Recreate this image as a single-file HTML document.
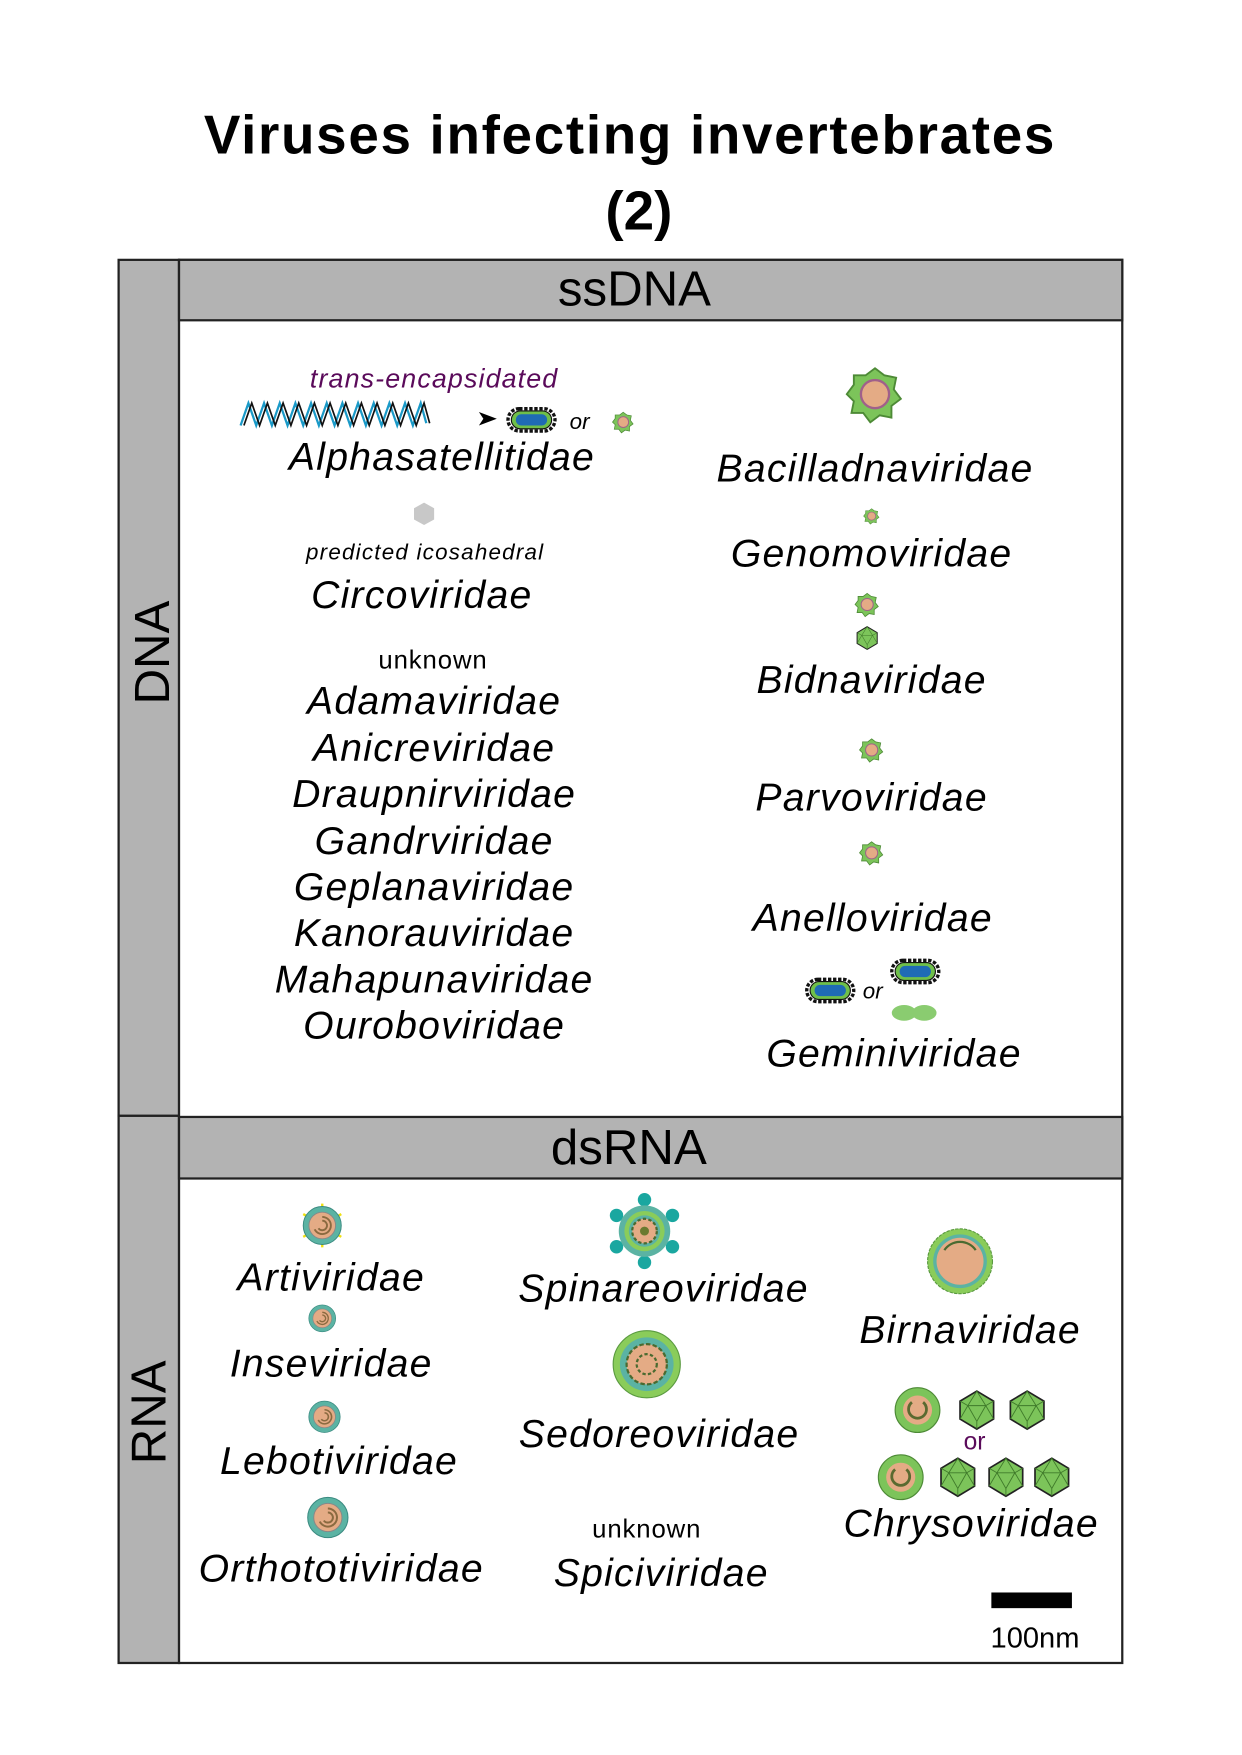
<!DOCTYPE html>
<html><head><meta charset="utf-8"><style>
html,body{margin:0;padding:0;background:#fff}
svg{display:block}
text{font-family:"Liberation Sans",sans-serif}
.f{font-style:italic;font-size:35px;letter-spacing:1.1px;text-anchor:middle;fill:#000}
</style></head><body>
<svg width="1242" height="1755" viewBox="0 0 1110 1568" xmlns="http://www.w3.org/2000/svg">
<defs>
<g id="gv"><polygon points="0,-11 4,-8 9,-7 8,-2 11,2 7,5 7,10 2,9 -2,12 -5,8 -10,8 -9,3 -12,0 -9,-4 -9,-8 -4,-8" fill="#7cc45a" stroke="#4d8a36" stroke-width="0.8"/><circle r="6" fill="#e4ab85" stroke="#a0608a" stroke-width="1"/></g>
<g id="ico"><polygon points="0,-17 15,-8 15,8 0,17 -15,8 -15,-8" fill="#7cc45a" stroke="#222" stroke-width="1.5"/><path d="M0,-17 L-8,-4 L8,-4 Z M-8,-4 L-15,8 M8,-4 L15,8 M-8,-4 L0,10 L8,-4 M0,10 L0,17 M-15,-8 L-8,-4 M15,-8 L8,-4" stroke="#3f7a2a" stroke-width="0.8" fill="none"/></g>
<g id="cap"><rect x="-21" y="-10" width="42" height="20" rx="10" fill="none" stroke="#111" stroke-width="3" stroke-dasharray="3 1.5"/><rect x="-18" y="-8" width="36" height="16" rx="8" fill="#6fbf4a" stroke="#111" stroke-width="1"/><rect x="-14" y="-5" width="28" height="10" rx="5" fill="#1f6bb5"/></g>
<g id="toti"><circle r="20" fill="#5bb3a3" stroke="#3a8a80" stroke-width="1"/><circle r="14" fill="#e4ab85" stroke="#888" stroke-width="1"/><path d="M0,-9 A9,9 0 1,1 -8,4 M0,-5 A5,5 0 1,1 -4,3" stroke="#8a6a40" stroke-width="2" fill="none"/></g>
<g id="chr"><circle r="20" fill="#7cc45a" stroke="#4d8a36"/><circle r="13" fill="#e4ab85"/><path d="M-5,-7 A8,8 0 1,0 5,-7" stroke="#5a6a30" stroke-width="2.5" fill="none"/></g>
</defs>

<text x="563" y="137" font-size="49" font-weight="bold" letter-spacing="1.5" text-anchor="middle">Viruses infecting invertebrates</text>
<text x="571" y="205" font-size="49" font-weight="bold" text-anchor="middle">(2)</text>

<rect x="106" y="232" width="54" height="765" fill="#b3b3b3" stroke="#222" stroke-width="2"/>
<rect x="106" y="997" width="54" height="489" fill="#b3b3b3" stroke="#222" stroke-width="2"/>
<rect x="160" y="232" width="843" height="1254" fill="#fff" stroke="#222" stroke-width="2"/>
<rect x="160" y="232" width="843" height="54" fill="#b3b3b3" stroke="#222" stroke-width="2"/>
<rect x="160" y="998" width="843" height="55" fill="#b3b3b3" stroke="#222" stroke-width="2"/>
<text x="567" y="273" font-size="44" text-anchor="middle">ssDNA</text>
<text x="562" y="1040" font-size="44" text-anchor="middle">dsRNA</text>
<text transform="translate(151,583) rotate(-90)" font-size="44" text-anchor="middle">DNA</text>
<text transform="translate(148,1262) rotate(-90)" font-size="44" text-anchor="middle">RNA</text>

<!-- ssDNA left -->
<text x="388" y="346" font-size="24" font-style="italic" letter-spacing="1" fill="#5a0a5a" text-anchor="middle">trans-encapsidated</text>
<path d="M215,380 l7,-20 l7,20 l7,-20 l7,20 l7,-20 l7,20 l7,-20 l7,20 l7,-20 l7,20 l7,-20 l7,20 l7,-20 l7,20 l7,-20 l7,20 l7,-20 l7,20 l7,-20 l7,20 l7,-20 l7,20 l7,-20 l5,18" stroke="#1a9ac8" stroke-width="2" fill="none"/>
<path d="M218,380 l7,-20 l7,20 l7,-20 l7,20 l7,-20 l7,20 l7,-20 l7,20 l7,-20 l7,20 l7,-20 l7,20 l7,-20 l7,20 l7,-20 l7,20 l7,-20 l7,20 l7,-20 l7,20 l7,-20 l7,20 l7,-20 l5,18" stroke="#111" stroke-width="1.5" fill="none"/>
<polygon points="428,368 444,374 428,380 432,374" fill="#000"/>
<use href="#cap" x="475" y="375"/>
<text x="518" y="383" font-size="20" font-style="italic" text-anchor="middle">or</text>
<use href="#gv" transform="translate(557,377) scale(0.8)"/>
<text class="f" x="395" y="420">Alphasatellitidae</text>
<polygon points="379,449 388,454 388,464 379,469 370,464 370,454" fill="#c8c8c8"/>
<text x="380" y="500" font-size="20" font-style="italic" letter-spacing="1.1" text-anchor="middle">predicted icosahedral</text>
<text class="f" x="377" y="543">Circoviridae</text>
<text x="387" y="597" font-size="23" letter-spacing="0.8" text-anchor="middle">unknown</text>
<text class="f" x="388" y="638">Adamaviridae</text>
<text class="f" x="388" y="680">Anicreviridae</text>
<text class="f" x="388" y="721">Draupnirviridae</text>
<text class="f" x="388" y="763">Gandrviridae</text>
<text class="f" x="388" y="804">Geplanaviridae</text>
<text class="f" x="388" y="845">Kanorauviridae</text>
<text class="f" x="388" y="887">Mahapunaviridae</text>
<text class="f" x="388" y="928">Ouroboviridae</text>

<!-- ssDNA right -->
<use href="#gv" transform="translate(782,352) scale(2.1)"/>
<text class="f" x="782" y="430">Bacilladnaviridae</text>
<use href="#gv" transform="translate(779,461) scale(0.6)"/>
<text class="f" x="779" y="506">Genomoviridae</text>
<use href="#gv" transform="translate(775,540) scale(0.9)"/>
<use href="#ico" transform="translate(775,570) scale(0.6)"/>
<text class="f" x="779" y="619">Bidnaviridae</text>
<use href="#gv" transform="translate(779,670) scale(0.9)"/>
<text class="f" x="779" y="724">Parvoviridae</text>
<use href="#gv" transform="translate(779,762) scale(0.9)"/>
<text class="f" x="780" y="832">Anelloviridae</text>
<use href="#cap" x="742" y="885"/>
<text x="780" y="892" font-size="20" font-style="italic" text-anchor="middle">or</text>
<use href="#cap" x="818" y="868"/>
<ellipse cx="808" cy="905" rx="11" ry="7" fill="#8acc70"/><ellipse cx="826" cy="905" rx="11" ry="7" fill="#8acc70"/>
<text class="f" x="799" y="953">Geminiviridae</text>

<!-- dsRNA -->
<g transform="translate(288,1095) scale(0.85)"><g stroke="#f0e010" stroke-width="2.5"><line x1="0" y1="-23" x2="0" y2="23"/><line x1="-20" y1="-12" x2="20" y2="12"/><line x1="-20" y1="12" x2="20" y2="-12"/></g><use href="#toti"/></g>
<text class="f" x="296" y="1153">Artiviridae</text>
<use href="#toti" transform="translate(288,1178) scale(0.6)"/>
<text class="f" x="296" y="1230">Inseviridae</text>
<use href="#toti" transform="translate(290,1266) scale(0.7)"/>
<text class="f" x="303" y="1317">Lebotiviridae</text>
<use href="#toti" transform="translate(293,1356) scale(0.9)"/>
<text class="f" x="305" y="1413">Orthototiviridae</text>

<g transform="translate(576,1100)">
<g fill="#1aa7a0"><circle cx="0" cy="-28" r="6"/><circle cx="0" cy="28" r="6"/><circle cx="-25" cy="-14" r="6"/><circle cx="25" cy="-14" r="6"/><circle cx="-25" cy="14" r="6"/><circle cx="25" cy="14" r="6"/></g>
<circle r="23" fill="#5bb3a3"/><circle r="18" fill="#8acc5a"/><circle r="14" fill="#5bb3a3"/><circle r="11" fill="#e4ab85" stroke="#4a6a30" stroke-width="2" stroke-dasharray="3 2"/><circle r="4" fill="#6a7a30"/></g>
<text class="f" x="593" y="1163">Spinareoviridae</text>
<g transform="translate(578,1219)"><circle r="30" fill="#8acc5a" stroke="#5a9a40"/><circle r="24" fill="#5bb3a3"/><circle r="18" fill="#e4ab85" stroke="#4a6a30" stroke-width="2" stroke-dasharray="4 2"/><circle r="9" fill="none" stroke="#4a6a30" stroke-width="2" stroke-dasharray="3 2"/></g>
<text class="f" x="589" y="1293">Sedoreoviridae</text>
<text x="578" y="1374" font-size="23" letter-spacing="0.8" text-anchor="middle">unknown</text>
<text class="f" x="591" y="1417">Spiciviridae</text>

<g transform="translate(858,1127)"><circle r="29" fill="#8acc5a" stroke="#5a9a40" stroke-dasharray="3 1"/><circle r="24" fill="#5bb3a3"/><circle r="21" fill="#e4ab85"/><path d="M-14,-10 A17,17 0 0,1 14,-10" stroke="#4a6a30" stroke-width="2" fill="none"/></g>
<text class="f" x="867" y="1200">Birnaviridae</text>
<use href="#chr" x="820" y="1260"/>
<use href="#ico" x="873" y="1260"/>
<use href="#ico" x="918" y="1260"/>
<text x="871" y="1295" font-size="22" fill="#5a0a5a" text-anchor="middle">or</text>
<use href="#chr" x="805" y="1320"/>
<use href="#ico" x="856" y="1320"/>
<use href="#ico" x="899" y="1320"/>
<use href="#ico" x="940" y="1320"/>
<text class="f" x="868" y="1373">Chrysoviridae</text>
<rect x="886" y="1423" width="72" height="14" fill="#000"/>
<text x="925" y="1472" font-size="26" text-anchor="middle">100nm</text>
</svg>
</body></html>
